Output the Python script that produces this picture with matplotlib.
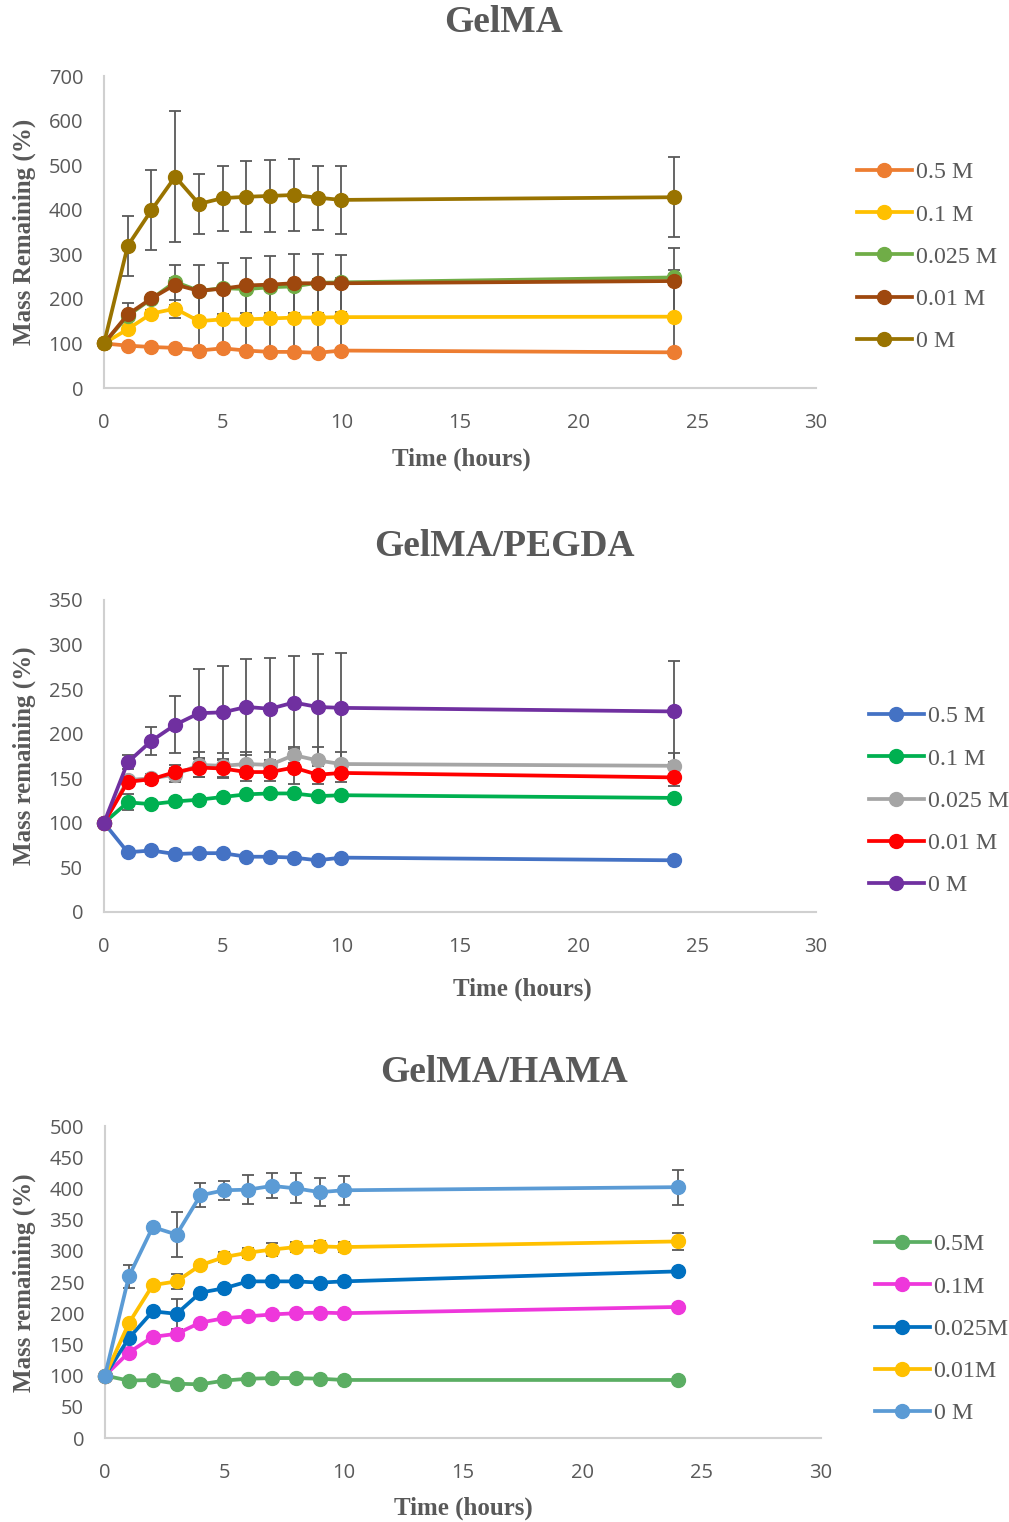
import matplotlib
matplotlib.use("Agg")
import matplotlib.pyplot as plt
from matplotlib.lines import Line2D

time_h = [0, 1, 2, 3, 4, 5, 6, 7, 8, 9, 10, 24]

# ---- GelMA ----
gel_labels = ["0.5 M", "0.1 M", "0.025 M", "0.01 M", "0 M"]
gel_05 = [100, 95, 92, 90, 84, 89, 84, 81, 81, 79, 84, 80]
gel_01 = [100, 132, 167, 178, 150, 154, 154, 156, 158, 158, 159, 160]
gel_0025 = [100, 162, 200, 238, 218, 224, 222, 226, 228, 236, 237, 248]
gel_001 = [100, 165, 201, 232, 218, 223, 230, 232, 235, 235, 235, 240]
gel_0 = [100, 319, 399, 474, 413, 426, 429, 431, 433, 427, 422, 428]
gel_err_05 = [0] * 12
gel_err_01 = [0, 5, 8, 20, 66, 67, 72, 75, 77, 78, 75, 80]
gel_err_0025 = [0, 5, 6, 8, 8, 8, 8, 8, 8, 8, 10, 17]
gel_err_001 = [0, 26, 5, 45, 58, 58, 61, 64, 66, 66, 64, 73]
gel_err_0 = [0, 67, 90, 147, 68, 73, 80, 81, 80, 72, 77, 90]

# ---- GelMA/PEGDA ----
peg_labels = ["0.5 M", "0.1 M", "0.025 M", "0.01 M", "0 M"]
peg_05 = [100, 67, 69, 65, 66, 66, 62, 62, 61, 58, 61, 58]
peg_01 = [100, 123, 121, 124, 126, 129, 132, 133, 133, 130, 131, 128]
peg_0025 = [100, 148, 150, 154, 165, 164, 166, 165, 176, 170, 166, 164]
peg_001 = [100, 146, 149, 157, 162, 161, 157, 157, 162, 154, 156, 151]
peg_0 = [100, 168, 192, 210, 223, 224, 230, 228, 235, 230, 229, 225]
peg_err_05 = [0] * 12
peg_err_01 = [0, 9, 3, 3, 3, 3, 3, 3, 3, 3, 3, 3]
peg_err_0025 = [0, 5, 5, 8, 14, 14, 14, 14, 9, 15, 14, 14]
peg_err_001 = [0, 5, 5, 8, 10, 10, 10, 10, 18, 10, 10, 10]
peg_err_0 = [0, 8, 16, 32, 50, 52, 54, 57, 52, 59, 61, 57]

# ---- GelMA/HAMA ----
ham_labels = ["0.5M", "0.1M", "0.025M", "0.01M", "0 M"]
ham_05 = [100, 92, 93, 87, 86, 92, 95, 96, 96, 95, 93, 93]
ham_01 = [100, 137, 162, 167, 185, 192, 195, 198, 200, 201, 200, 210]
ham_0025 = [100, 160, 203, 199, 233, 240, 251, 251, 251, 249, 251, 267]
ham_001 = [100, 184, 245, 251, 277, 290, 297, 302, 306, 307, 306, 315]
ham_0 = [100, 259, 338, 326, 389, 397, 398, 404, 400, 394, 397, 402]
ham_err_05 = [0] * 12
ham_err_01 = [0, 2, 2, 2, 2, 2, 2, 2, 2, 2, 2, 5]
ham_err_0025 = [0, 3, 3, 24, 3, 3, 3, 3, 3, 3, 3, 3]
ham_err_001 = [0, 3, 3, 12, 5, 8, 8, 10, 8, 8, 8, 13]
ham_err_0 = [0, 18, 5, 36, 19, 15, 23, 20, 24, 22, 23, 28]

GRAY = "#595959"
SERIF = "Liberation Serif"
SANS = "Open Sans"

W, H = 1009, 1522
fig = plt.figure(figsize=(W / 100, H / 100), dpi=100)


def px_rect(x0, x1, ytop, ybot):
    return [x0 / W, 1 - ybot / H, (x1 - x0) / W, (ybot - ytop) / H]


panels = [
    dict(rect=px_rect(104, 816, 76, 388), title="GelMA", title_y=22,
         ylabel="Mass Remaining (%)", ylab_y=232, xlab=(461, 459),
         ymax=700, ystep=100,
         series=[gel_05, gel_01, gel_0025, gel_001, gel_0],
         errs=[gel_err_05, gel_err_01, gel_err_0025, gel_err_001, gel_err_0],
         labels=gel_labels,
         colors=["#ED7D31", "#FFC000", "#70AD47", "#9E480E", "#997300"],
         leg=(857, 257)),
    dict(rect=px_rect(104, 816, 600, 912), title="GelMA/PEGDA", title_y=546,
         ylabel="Mass remaining (%)", ylab_y=756, xlab=(522, 989),
         ymax=350, ystep=50,
         series=[peg_05, peg_01, peg_0025, peg_001, peg_0],
         errs=[peg_err_05, peg_err_01, peg_err_0025, peg_err_001, peg_err_0],
         labels=peg_labels,
         colors=["#4472C4", "#00B050", "#A5A5A5", "#FF0000", "#7030A0"],
         leg=(869, 801)),
    dict(rect=px_rect(105, 821, 1126, 1438), title="GelMA/HAMA", title_y=1072,
         ylabel="Mass remaining (%)", ylab_y=1283, xlab=(463, 1508),
         ymax=500, ystep=50,
         series=[ham_05, ham_01, ham_0025, ham_001, ham_0],
         errs=[ham_err_05, ham_err_01, ham_err_0025, ham_err_001, ham_err_0],
         labels=ham_labels,
         colors=["#5BAE63", "#EE37DB", "#0070C0", "#FFC000", "#5B9BD5"],
         leg=(875, 1329)),
]

for p in panels:
    ax = fig.add_axes(p["rect"])
    handles = []
    for i, (ys, es, col, lab) in enumerate(zip(p["series"], p["errs"], p["colors"], p["labels"])):
        if any(e > 0 for e in es):
            ax.errorbar(time_h, ys, yerr=es, fmt="none", ecolor=GRAY, elinewidth=1.3,
                        capsize=4.2, capthick=1.3, zorder=2, clip_on=False)
        ax.plot(time_h, ys, color=col, lw=2.7, marker="o", ms=10,
                mec=col, mfc=col, zorder=3 + i, clip_on=False)
        handles.append(Line2D([0], [0], color=col, lw=2.7, marker="o", ms=10,
                              mec=col, mfc=col))
    ax.set_xlim(0, 30)
    ax.set_ylim(0, p["ymax"])
    ax.set_xticks(range(0, 31, 5))
    ax.set_yticks(range(0, p["ymax"] + 1, p["ystep"]))
    for s in ["top", "right"]:
        ax.spines[s].set_visible(False)
    for s in ["left", "bottom"]:
        ax.spines[s].set_color("#d0d0d0")
        ax.spines[s].set_linewidth(1.5)
    ax.tick_params(axis="both", length=0, labelcolor=GRAY, labelsize=14.5)
    ax.tick_params(axis="y", pad=15)
    ax.tick_params(axis="x", pad=18)
    for t in ax.get_xticklabels() + ax.get_yticklabels():
        t.set_fontfamily(SANS)

    fig.text(504 / W, 1 - p["title_y"] / H, p["title"], ha="center", va="center",
             fontfamily=SERIF, fontweight="bold", fontsize=27, color=GRAY)
    fig.text(p["xlab"][0] / W, 1 - p["xlab"][1] / H, "Time (hours)", ha="center",
             va="center", fontfamily=SERIF, fontweight="bold", fontsize=18, color=GRAY)
    fig.text(24 / W, 1 - p["ylab_y"] / H, p["ylabel"], ha="center", va="center",
             rotation=90, fontfamily=SERIF, fontweight="bold", fontsize=18, color=GRAY)

    leg = fig.legend(handles, p["labels"], loc="center left",
                     bbox_to_anchor=(p["leg"][0] / W, 1 - p["leg"][1] / H),
                     frameon=False, prop={"family": SERIF, "size": 17.2},
                     handlelength=2.3, handletextpad=0.15, labelspacing=0.86,
                     borderpad=0, borderaxespad=0)
    for t in leg.get_texts():
        t.set_color(GRAY)

fig.savefig("out.png", dpi=100)
